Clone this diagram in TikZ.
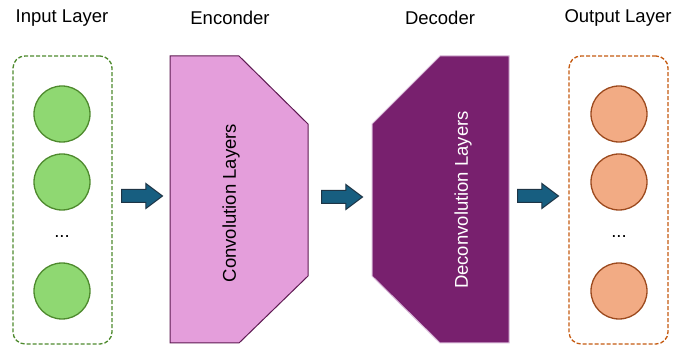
\documentclass[tikz,border=0pt]{standalone}
\usepackage{fontspec}
\setmainfont{Liberation Sans}
\usetikzlibrary{shapes.arrows}

\definecolor{ingreen}{HTML}{8FD872}
\definecolor{ingreenedge}{HTML}{4E8A2E}
\definecolor{outorange}{HTML}{F2AB84}
\definecolor{outorangeedge}{HTML}{9C4A1E}
\definecolor{outboxedge}{HTML}{C55A11}
\definecolor{encpink}{HTML}{E49EDB}
\definecolor{encedge}{HTML}{5E1A52}
\definecolor{decpurple}{HTML}{78206E}
\definecolor{decedge}{HTML}{D8B8D8}
\definecolor{arrowblue}{HTML}{175E80}
\definecolor{arrowedge}{HTML}{1E3445}

\tikzset{
  layerbox/.style={rounded corners=12pt, dashed, dash pattern=on 4pt off 2pt,
    line width=1.3pt, minimum width=99pt, minimum height=288pt},
  neuron/.style={circle, line width=1.3pt, minimum size=56pt, inner sep=0pt},
  bigarrow/.style={single arrow, fill=arrowblue, draw=arrowedge, line width=1pt,
    minimum height=41pt, inner xsep=0pt, inner ysep=6pt, anchor=tail,
    single arrow head extend=6pt, single arrow tip angle=74}
}

\begin{document}
\begin{tikzpicture}[x=1pt,y=-1pt,font=\fontsize{18.5}{21}\selectfont]
\useasboundingbox (0,0) rectangle (675,347);

% titles
\node (intitle) at (62,18) {Input Layer};
\node (enctitle) at (230,18) {Enconder};
\node (dectitle) at (440,18) {Decoder};
\node (outtitle) at (618,18) {Output Layer};

% input layer
\node[layerbox, draw=ingreenedge] (inbox) at (62.5,200) {};
\node[neuron, fill=ingreen, draw=ingreenedge] (in1) at (62,114) {};
\node[neuron, fill=ingreen, draw=ingreenedge] (in2) at (62,182) {};
\node (indots) at (62,237) {...};
\node[neuron, fill=ingreen, draw=ingreenedge] (in3) at (62,291) {};

% encoder
\coordinate (E1) at (170,56);
\coordinate (E2) at (239,56);
\coordinate (E3) at (308,124);
\coordinate (E4) at (308,276);
\coordinate (E5) at (239,343);
\coordinate (E6) at (170,343);
\draw[fill=encpink, draw=encedge, line width=1pt] (E1)--(E2)--(E3)--(E4)--(E5)--(E6)--cycle;
\node[rotate=90] (enclab) at (231,203) {Convolution Layers};

% decoder
\coordinate (D1) at (440,56);
\coordinate (D2) at (509,56);
\coordinate (D3) at (509,343);
\coordinate (D4) at (440,343);
\coordinate (D5) at (372,276);
\coordinate (D6) at (372,124);
\draw[fill=decpurple, draw=decedge, line width=1pt] (D1)--(D2)--(D3)--(D4)--(D5)--(D6)--cycle;
\node[rotate=90, text=white] (declab) at (463,200) {Deconvolution Layers};

% output layer
\node[layerbox, draw=outboxedge] (outbox) at (618.5,200) {};
\node[neuron, fill=outorange, draw=outorangeedge] (out1) at (619,114) {};
\node[neuron, fill=outorange, draw=outorangeedge] (out2) at (619,182) {};
\node (outdots) at (619,237) {...};
\node[neuron, fill=outorange, draw=outorangeedge] (out3) at (619,291) {};

% arrows between stages
\node[bigarrow] (arr1) at (121,196) {};
\node[bigarrow] (arr2) at (321,197) {};
\node[bigarrow] (arr3) at (517,196) {};
\end{tikzpicture}
\end{document}
